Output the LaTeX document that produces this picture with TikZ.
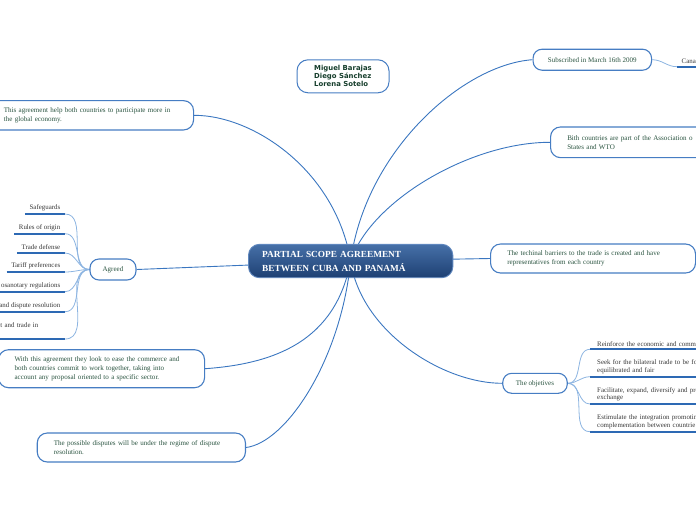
\documentclass[tikz,border=0pt]{standalone}
\usepackage{fontspec}
\setmainfont{Liberation Serif}
\newfontfamily\authorfont{DejaVu Sans}
\usetikzlibrary{backgrounds}
\definecolor{branchblue}{RGB}{58,118,192}
\definecolor{twigblue}{RGB}{140,180,225}
\definecolor{boxblue}{RGB}{70,125,195}
\definecolor{ruleblue}{RGB}{45,105,180}
\definecolor{topicgreen}{RGB}{42,84,64}
\definecolor{authgreen}{RGB}{22,62,44}
\definecolor{subgray}{RGB}{55,55,55}
\definecolor{hubtop}{RGB}{70,112,168}
\definecolor{hubbottom}{RGB}{30,64,115}
\definecolor{hubedge}{RGB}{95,135,190}

\tikzset{
  topic/.style={rectangle,rounded corners=10pt,draw=boxblue,line width=1.1pt,fill=white,align=left,text=topicgreen,font=\fontsize{7.05}{9}\selectfont,inner ysep=0pt},
  leaf/.style={inner xsep=4.5pt,inner ysep=3pt,text=subgray,font=\fontsize{6.9}{7.3}\selectfont,
    append after command={(\tikzlastnode.south west) edge[draw=ruleblue,line width=1.8pt] (\tikzlastnode.south east)}},
  branch/.style={draw=branchblue,line width=0.9pt},
  twig/.style={draw=twigblue,line width=0.8pt},
}

\begin{document}
\begin{tikzpicture}[x=1pt,y=-1pt]
  \useasboundingbox (0,0) rectangle (696,520);
  \clip (0,0) rectangle (696,520);

  % central topic
  \node[rectangle,rounded corners=11pt,draw=hubedge,line width=0.9pt,top color=hubtop,bottom color=hubbottom,text=white,font=\bfseries\fontsize{9.3}{14}\selectfont,align=left,anchor=west,inner xsep=13.7pt,inner ysep=0pt,text width=177pt,minimum height=33.4pt] (hub) at (248,261) {PARTIAL SCOPE AGREEMENT\\BETWEEN CUBA AND PANAMÁ};

  % floating authors box
  \node[rectangle,rounded corners=11pt,draw=boxblue,line width=1pt,fill=white,align=left,text=authgreen,font=\authorfont\bfseries\fontsize{6.9}{8}\selectfont,minimum width=92pt,minimum height=33pt] (authors) at (343,76.3) {Miguel Barajas\\Diego Sánchez\\Lorena Sotelo};

  % main topics
  \node[topic,anchor=west,inner xsep=15.3pt,text width=174.4pt,minimum height=29.3pt] (global) at (-12,115.3) {This agreement help both countries to participate more in\\the global economy.};
  \node[topic,anchor=west,inner xsep=16pt,text width=174pt,minimum height=38pt] (ease) at (-2,368.7) {With this agreement they look to ease the commerce and\\both countries commit to work together, taking into\\account any proposal oriented to a specific sector.};
  \node[topic,anchor=west,inner xsep=16.6pt,text width=175pt,minimum height=29pt] (disputes) at (36.7,447.5) {The possible disputes will be under the regime of dispute\\resolution.};
  \node[topic,anchor=west,inner xsep=16.7pt,text width=180pt,minimum height=30.7pt] (assoc) at (550,142.3) {Bith countries are part of the Association o\\States and WTO};
  \node[topic,anchor=west,inner xsep=16.7pt,text width=171.6pt,minimum height=29pt] (barriers) at (490,258.5) {The techinal barriers to the trade is created and have\\representatives from each country};
  \node[topic,rounded corners=9pt,align=center,minimum width=118.5pt,minimum height=21pt] (signed) at (592.3,59.7) {Subscribed in March 16th 2009};
  \node[topic,rounded corners=9pt,align=center,minimum width=46pt,minimum height=21pt] (agreed) at (113,269.5) {Agreed};
  \node[topic,rounded corners=9pt,align=center,minimum width=64.5pt,minimum height=20pt] (aims) at (535,383.3) {The objetives};

  % subtopics of Agreed
  \node[leaf,anchor=south east] (safeguards) at (65,214) {Safeguards};
  \node[leaf,anchor=south east] (origin) at (65,233.7) {Rules of origin};
  \node[leaf,anchor=south east] (defense) at (65,253) {Trade defense};
  \node[leaf,anchor=south east] (tariff) at (65,272) {Tariff preferences};
  \node[leaf,anchor=south east] (sanitary) at (65,291.7) {osanotary regulations};
  \node[leaf,anchor=south east] (settle) at (65,311.7) {and dispute resolution};
  \node[leaf,anchor=south east,align=left,text width=60pt,minimum height=28pt] (services) at (65,339) {t and trade in};

  % subtopics on the right
  \node[leaf,anchor=south west] (cana) at (677,66.7) {Cana};
  \node[leaf,anchor=south west,inner xsep=7pt,align=left,text width=110pt] (reinforce) at (590,349.3) {Reinforce the economic and comme};
  \node[leaf,anchor=south west,inner xsep=7pt,align=left,text width=110pt] (seek) at (590,376.7) {Seek for the bilateral trade to be for\\equilibrated and fair};
  \node[leaf,anchor=south west,inner xsep=7pt,align=left,text width=110pt] (widen) at (590,404) {Facilitate, expand, diversify and pro\\exchange};
  \node[leaf,anchor=south west,inner xsep=7pt,align=left,text width=110pt] (integrate) at (590,431.7) {Estimulate the integration promotin\\complementation between countrie};

  % connectors
  \begin{scope}[on background layer]
    \draw[branch] (global.east) .. controls +(60,0) and +(-15,-90) .. (hub.center);
    \draw[branch] (agreed.east) -- (hub.center);
    \draw[branch] (ease.east) .. controls +(70,-5) and +(-15,80) .. (hub.center);
    \draw[branch] (disputes.east) .. controls +(40,-5) and +(-10,100) .. (hub.center);
    \draw[branch] (signed.west) .. controls +(-70,5) and +(15,-110) .. (hub.center);
    \draw[branch] (assoc.west) .. controls +(-80,0) and +(20,-60) .. (hub.center);
    \draw[branch] (barriers.west) -- (hub.center);
    \draw[branch] (aims.west) .. controls +(-60,0) and +(10,70) .. (hub.center);
    \foreach \leafname in {safeguards,origin,defense,tariff,sanitary,settle,services}
      \draw[twig] (\leafname.south east) to[out=0,in=180] (agreed.west);
    \foreach \leafname in {reinforce,seek,widen,integrate}
      \draw[twig] (aims.east) to[out=0,in=180] (\leafname.south west);
    \draw[twig] (signed.east) to[out=0,in=180] (cana.south west);
  \end{scope}
\end{tikzpicture}
\end{document}
